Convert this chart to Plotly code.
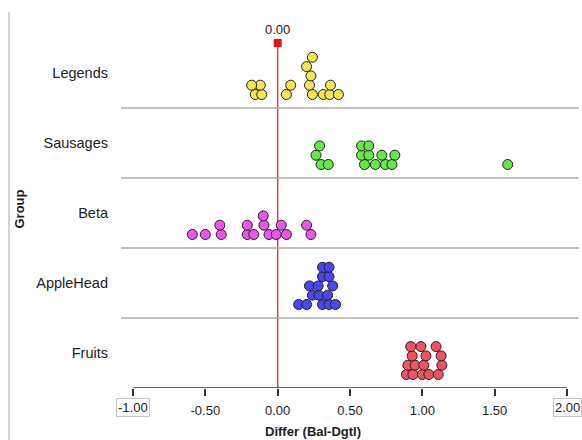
import plotly.graph_objects as go

# ---------------- data ----------------
groups = ["Fruits", "AppleHead", "Beta", "Sausages", "Legends"]  # bottom -> top

legends = [-0.155, -0.11, 0.06, 0.24, 0.315, 0.36, 0.42,
           -0.12, 0.09, 0.22, 0.365, -0.18, 0.23, 0.20, 0.24]
sausages = [0.30, 0.35, 0.60, 0.675, 0.745, 0.79, 1.59,
            0.265, 0.58, 0.63, 0.72, 0.81, 0.29, 0.58, 0.63]
beta = [-0.59, -0.50, -0.39, -0.21, -0.165, -0.06, -0.01, 0.06, 0.23,
        -0.40, -0.21, -0.095, 0.025, 0.20, -0.10]
applehead = [0.145, 0.20, 0.31, 0.355, 0.40, 0.24, 0.285, 0.345,
             0.22, 0.28, 0.38, 0.31, 0.355, 0.31, 0.355]
fruits = [0.89, 0.935, 1.0, 1.045, 1.11, 0.90, 0.95, 1.01, 1.135,
          0.93, 1.025, 1.13, 0.99, 1.095, 0.92]

values = {"Legends": legends, "Sausages": sausages, "Beta": beta,
          "AppleHead": applehead, "Fruits": fruits}
colors = {"Legends": "#f6e651", "Sausages": "#62ea45", "Beta": "#ee55ee",
          "AppleHead": "#4848ee", "Fruits": "#ef5363"}

x_ticks = [-1.0, -0.5, 0.0, 0.5, 1.0, 1.5, 2.0]
ref_value = 0.0

# ---------------- layout constants ----------------
W, H = 582, 440
ML, MR, MT, MB = 121, 3, 38, 52
plot_w = W - ML - MR
plot_h = H - MT - MB
pad_px = 12
unit_px = (plot_w - 2 * pad_px) / (x_ticks[-1] - x_ticks[0])
x0 = x_ticks[0] - pad_px / unit_px
x1 = x_ticks[-1] + pad_px / unit_px
band_px = plot_h / len(groups)

base_px, step_px, gap_px = 13.5, 9.3, 6.0


def swarm_levels(vals):
    """Greedy stacking: each point goes to the lowest row without a close neighbour."""
    rows = []
    levels = []
    thr = gap_px / unit_px
    for v in vals:
        r = 0
        while True:
            if r >= len(rows):
                rows.append([])
            if all(abs(v - u) >= thr for u in rows[r]):
                rows[r].append(v)
                levels.append(r)
                break
            r += 1
    return levels


fig = go.Figure()
for gi, g in enumerate(groups):
    vals = values[g]
    lv = swarm_levels(vals)
    ys = [gi + (base_px + l * step_px) / band_px for l in lv]
    fig.add_trace(go.Scatter(
        x=vals, y=ys, mode="markers",
        marker=dict(size=10, color=colors[g], line=dict(color="#202020", width=1)),
        showlegend=False, hoverinfo="x"))

# reference line at 0
top_y = len(groups) - 5 / band_px
fig.add_shape(type="line", x0=ref_value, x1=ref_value, y0=0, y1=top_y,
              line=dict(color="#b9504c", width=1.5), layer="below")
fig.add_trace(go.Scatter(
    x=[ref_value], y=[top_y], mode="markers+text",
    marker=dict(symbol="square", size=8, color="#ee1010", line=dict(width=0)),
    text=[f"{ref_value:.2f}"], textposition="top center", cliponaxis=False,
    textfont=dict(size=13, color="#222"), showlegend=False, hoverinfo="skip"))

# separators between groups
for k in range(1, len(groups)):
    fig.add_shape(type="line", x0=x0, x1=x1, y0=k, y1=k,
                  line=dict(color="#ababab", width=1.6), layer="below")

# axis line from first to last tick
fig.add_shape(type="line", x0=x_ticks[0], x1=x_ticks[-1], y0=0, y1=0,
              line=dict(color="#333333", width=1.5))

# left frame line
fig.add_shape(type="line", xref="paper", yref="paper",
              x0=(9 - ML) / plot_w, x1=(9 - ML) / plot_w,
              y0=-MB / plot_h, y1=1 + (MT - 12) / plot_h,
              line=dict(color="#c4c4c4", width=1.5))

ticktext = ["" if i in (0, len(x_ticks) - 1) else f"{t:.2f}" for i, t in enumerate(x_ticks)]

annotations = []
for t in (x_ticks[0], x_ticks[-1]):
    annotations.append(dict(x=t, y=-19.5 / plot_h, xref="x", yref="paper",
                            text=f"{t:.2f}", showarrow=False, yanchor="middle",
                            xanchor="center",
                            bordercolor="#c4c4c4", borderwidth=1, borderpad=1,
                            font=dict(size=13, color="#222")))
annotations.append(dict(x=(312.5 - ML) / plot_w * (x1 - x0) + x0, y=-43 / plot_h,
                        xref="x", yref="paper", text="<b>Differ (Bal-Dgtl)</b>",
                        showarrow=False, yanchor="middle", xanchor="center",
                        font=dict(size=13, color="#222")))
annotations.append(dict(x=(19 - ML) / plot_w, y=0.51, xref="paper", yref="paper",
                        text="<b>Group</b>", textangle=-90, showarrow=False,
                        xanchor="center", yanchor="middle",
                        font=dict(size=13, color="#222")))

fig.update_layout(
    width=W, height=H,
    margin=dict(l=ML, r=MR, t=MT, b=MB),
    paper_bgcolor="white", plot_bgcolor="white",
    font=dict(family="Liberation Sans, Arial, sans-serif", color="#222"),
    annotations=annotations,
    xaxis=dict(range=[x0, x1], tickvals=x_ticks, ticktext=ticktext,
               ticks="outside", ticklen=7, tickwidth=1.5, tickcolor="#333",
               showgrid=False, zeroline=False, showline=False,
               tickfont=dict(size=13, color="#222"), ticklabelstandoff=3,
               fixedrange=True),
    yaxis=dict(range=[0, len(groups)], tickvals=[i + 0.5 for i in range(len(groups))],
               ticktext=groups, ticks="", showgrid=False, zeroline=False,
               showline=False, tickfont=dict(size=14.5, color="#222"),
               ticklabelstandoff=12, fixedrange=True),
)

fig.write_html("out.html", config={"displayModeBar": False},
               post_script="document.body.style.margin='0';document.body.style.overflow='hidden';")
